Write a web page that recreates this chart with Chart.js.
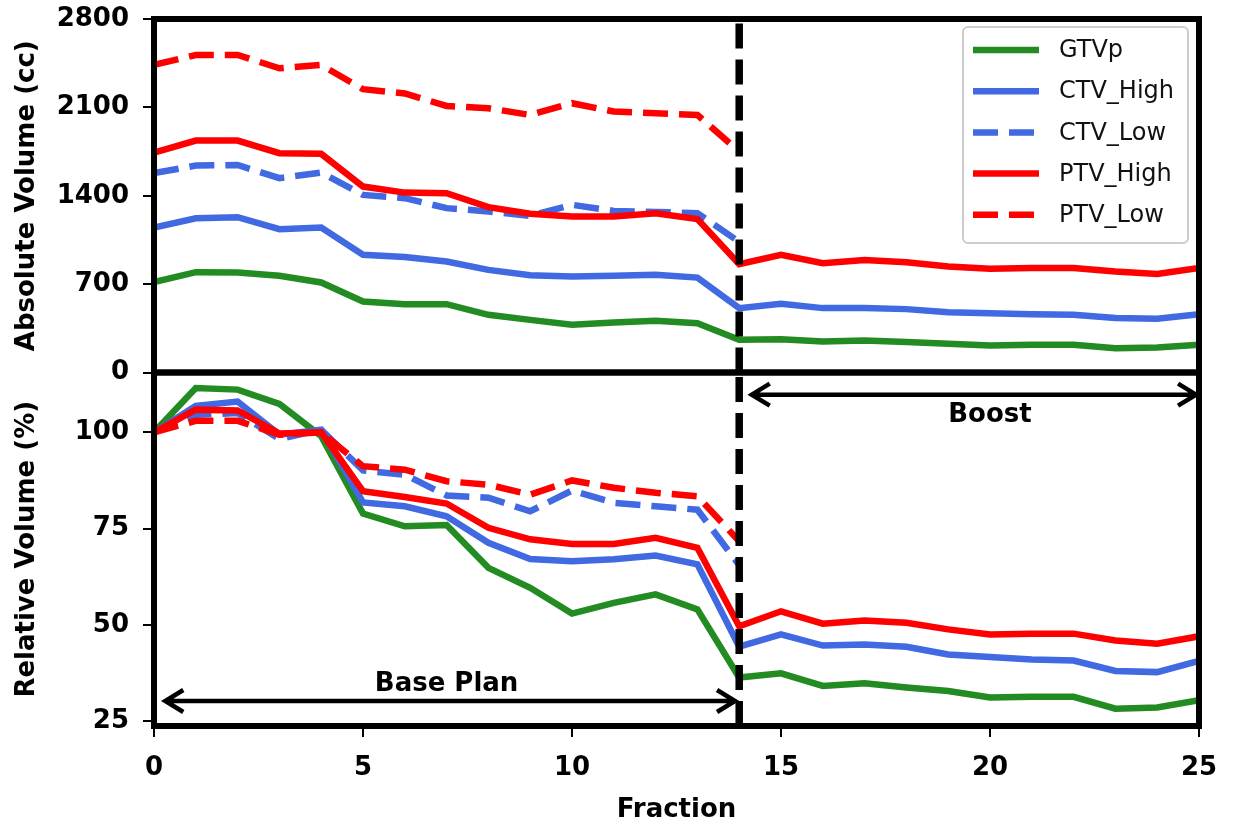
<!DOCTYPE html>
<html>
<head>
<meta charset="utf-8">
<script src="https://cdn.jsdelivr.net/npm/chart.js@4.4.1/dist/chart.umd.min.js"></script>
<style>
  html, body { margin: 0; padding: 0; background: #fff; }
  #wrap { width: 1234px; height: 826px; position: relative; }
</style>
</head>
<body>
<div id="wrap"><canvas id="volChart"></canvas></div>
<script>
// fractions 0..25, the low-dose volumes only exist for the base plan (0..14)
var fractions = [0, 1, 2, 3, 4, 5, 6, 7, 8, 9, 10, 11, 12, 13, 14, 15, 16, 17, 18, 19, 20, 21, 22, 23, 24, 25];
var baseFractions = [0, 1, 2, 3, 4, 5, 6, 7, 8, 9, 10, 11, 12, 13, 14];

// absolute volumes (cc)
var gtvAbs = [716, 795, 792, 766, 713, 562, 541, 541, 457, 417, 378, 396, 409, 391, 259, 264, 245, 253, 241, 227, 214, 219, 219, 193, 198, 219];
var ctvHighAbs = [1148, 1222, 1230, 1135, 1148, 932, 914, 879, 813, 771, 760, 766, 774, 752, 510, 544, 510, 510, 502, 478, 470, 462, 457, 431, 425, 462];
var ctvLowAbs = [1579, 1639, 1644, 1539, 1584, 1407, 1381, 1302, 1275, 1241, 1328, 1280, 1272, 1262, 1035];
var ptvHighAbs = [1742, 1837, 1837, 1737, 1732, 1473, 1425, 1420, 1310, 1257, 1235, 1235, 1262, 1215, 858, 932, 866, 892, 874, 839, 821, 827, 827, 800, 781, 827];
var ptvLowAbs = [2436, 2515, 2515, 2410, 2436, 2244, 2210, 2111, 2093, 2040, 2133, 2067, 2054, 2040, 1750];

// relative volumes (%)
var gtvRel = [100, 111.5, 111.1, 107.4, 99, 78.9, 75.6, 75.9, 64.8, 59.6, 52.9, 55.7, 57.9, 54, 36.3, 37.4, 34.1, 34.8, 33.7, 32.8, 31.1, 31.3, 31.3, 28.2, 28.5, 30.4];
var ctvHighRel = [100, 106.9, 108, 99.4, 100.7, 81.8, 80.8, 78.2, 71.3, 67.1, 66.5, 67, 68, 65.7, 44.3, 47.5, 44.6, 44.9, 44.3, 42.3, 41.6, 41, 40.7, 38, 37.7, 40.6];
var ctvLowRel = [100, 104.6, 105, 98.3, 100.7, 90.1, 89, 83.6, 83, 79.5, 84.9, 81.7, 80.8, 79.9, 65.5];
var ptvHighRel = [100, 105.9, 105.7, 99.7, 100, 84.7, 83.2, 81.5, 75.2, 72.2, 71, 71, 72.6, 70, 49.6, 53.5, 50.3, 51.1, 50.5, 48.8, 47.5, 47.7, 47.7, 45.9, 45.1, 47];
var ptvLowRel = [100, 103, 103, 99.4, 100, 91.2, 90.3, 87.3, 86.4, 83.8, 87.5, 85.6, 84.3, 83.4, 71.7];

// tick labels
var xTicks = [0, 5, 10, 15, 20, 25];
var absTicks = [0, 700, 1400, 2100, 2800];
var relTicks = [25, 50, 75, 100];

var boostStart = 14;

var GREEN = '#228b22', BLUE = '#4169e1', RED = '#ff0000';
var DASH = [25, 11];
var FONT = 'DejaVu Sans';

function pts(xs, ys) {
  return ys.map(function (v, i) { return { x: xs[i], y: v }; });
}

function series(label, xs, ys, color, dashed, axis, order) {
  return {
    label: label,
    data: pts(xs, ys),
    yAxisID: axis,
    borderColor: color,
    backgroundColor: color,
    borderWidth: 6.5,
    borderDash: dashed ? DASH : [],
    pointRadius: 0,
    tension: 0,
    order: order
  };
}

var datasets = [
  series('GTVp', fractions, gtvAbs, GREEN, false, 'yAbs', 5),
  series('CTV_High', fractions, ctvHighAbs, BLUE, false, 'yAbs', 4),
  series('CTV_Low', baseFractions, ctvLowAbs, BLUE, true, 'yAbs', 3),
  series('PTV_High', fractions, ptvHighAbs, RED, false, 'yAbs', 2),
  series('PTV_Low', baseFractions, ptvLowAbs, RED, true, 'yAbs', 1),
  series('GTVp', fractions, gtvRel, GREEN, false, 'yRel', 5),
  series('CTV_High', fractions, ctvHighRel, BLUE, false, 'yRel', 4),
  series('CTV_Low', baseFractions, ctvLowRel, BLUE, true, 'yRel', 3),
  series('PTV_High', fractions, ptvHighRel, RED, false, 'yRel', 2),
  series('PTV_Low', baseFractions, ptvLowRel, RED, true, 'yRel', 1)
];

function drawArrow(ctx, x1, x2, y) {
  var hl = 18, hw = 11;
  ctx.beginPath();
  ctx.moveTo(x1, y); ctx.lineTo(x2, y);
  ctx.moveTo(x1 + hl, y - hw); ctx.lineTo(x1, y); ctx.lineTo(x1 + hl, y + hw);
  ctx.moveTo(x2 - hl, y - hw); ctx.lineTo(x2, y); ctx.lineTo(x2 - hl, y + hw);
  ctx.stroke();
}

// dashed boost marker, annotations, panel frames and the legend box
var overlayPlugin = {
  id: 'overlay',
  afterDatasetsDraw: function (chart) {
    var ctx = chart.ctx;
    var xs = chart.scales.x, yAbs = chart.scales.yAbs, yRel = chart.scales.yRel;
    var area = chart.chartArea;
    var bx = xs.getPixelForValue(boostStart);
    ctx.save();

    ctx.strokeStyle = '#000';
    ctx.lineWidth = 7.5;
    ctx.setLineDash(DASH);
    [yAbs, yRel].forEach(function (s) {
      ctx.beginPath();
      ctx.moveTo(bx, s.bottom);
      ctx.lineTo(bx, s.top);
      ctx.stroke();
    });
    ctx.setLineDash([]);

    // Base Plan / Boost arrows
    ctx.lineWidth = 4.5;
    ctx.lineJoin = 'miter';
    drawArrow(ctx, xs.getPixelForValue(0.27), xs.getPixelForValue(13.9), yRel.getPixelForValue(30.2));
    drawArrow(ctx, xs.getPixelForValue(14.3), xs.getPixelForValue(24.93), yRel.getPixelForValue(109.8));
    ctx.fillStyle = '#000';
    ctx.font = 'bold 26px "' + FONT + '"';
    ctx.textAlign = 'center';
    ctx.textBaseline = 'alphabetic';
    ctx.fillText('Base Plan', xs.getPixelForValue(7), yRel.getPixelForValue(32.7));
    ctx.fillText('Boost', xs.getPixelForValue(20), yRel.getPixelForValue(102.7));

    // frames
    ctx.lineWidth = 6;
    [yAbs, yRel].forEach(function (s) {
      ctx.strokeRect(area.left, s.top, area.right - area.left, s.bottom - s.top);
    });

    // legend
    var lx = area.right - 236, ly = area.top + 8, lw = 225, lh = 216;
    ctx.fillStyle = 'rgba(255,255,255,0.85)';
    ctx.strokeStyle = '#cccccc';
    ctx.lineWidth = 2;
    ctx.beginPath();
    ctx.roundRect(lx, ly, lw, lh, 5);
    ctx.fill();
    ctx.stroke();
    var items = chart.data.datasets.filter(function (d) { return d.yAxisID === 'yAbs'; });
    ctx.font = '24px "' + FONT + '"';
    ctx.textAlign = 'left';
    ctx.textBaseline = 'middle';
    items.forEach(function (d, i) {
      var ry = ly + 23 + i * 41.2;
      ctx.strokeStyle = d.borderColor;
      ctx.lineWidth = 6.5;
      ctx.setLineDash(d.borderDash);
      ctx.beginPath();
      ctx.moveTo(lx + 10, ry);
      ctx.lineTo(lx + 76, ry);
      ctx.stroke();
      ctx.setLineDash([]);
      ctx.fillStyle = '#111';
      ctx.fillText(d.label, lx + 96, ry + 1);
    });
    ctx.restore();
  }
};

function fixedTicks(list) {
  return function (scale) {
    scale.ticks = list.map(function (v) { return { value: v }; });
  };
}

function fitY(s) {
  s.width = 154;
  s.paddingTop = 0;
  s.paddingBottom = 0;
}

var tickFont = { family: FONT, size: 26, weight: 'bold' };
var tickGrid = { drawOnChartArea: false, drawTicks: true, tickLength: 11, color: '#000', lineWidth: 2 };

var ctx = document.getElementById('volChart').getContext('2d');
var volChart = new Chart(ctx, {
  type: 'line',
  data: { datasets: datasets },
  options: {
    responsive: true,
    maintainAspectRatio: false,
    animation: false,
    layout: { padding: { top: 19, right: 35, left: 0, bottom: 0 } },
    plugins: {
      legend: { display: false },
      tooltip: { enabled: false }
    },
    scales: {
      x: {
        type: 'linear',
        min: 0,
        max: 25,
        afterBuildTicks: fixedTicks(xTicks),
        afterFit: function (s) { s.height = 100; s.paddingLeft = 0; s.paddingRight = 0; },
        grid: tickGrid,
        border: { display: false },
        ticks: { color: '#000', font: tickFont, padding: 16, callback: function (v) { return String(v); } },
        title: { display: true, text: 'Fraction', color: '#000', font: tickFont, padding: { top: 0, bottom: 0 } }
      },
      yAbs: {
        type: 'linear',
        position: 'left',
        stack: 'panels',
        stackWeight: 1,
        weight: 2,
        min: 0,
        max: 2800,
        afterBuildTicks: fixedTicks(absTicks),
        afterFit: fitY,
        grid: tickGrid,
        border: { display: false },
        ticks: { color: '#000', font: tickFont, padding: 14, callback: function (v) { return String(v); } },
        title: { display: true, text: 'Absolute Volume (cc)', color: '#000', font: tickFont, padding: { top: 12, bottom: 0 } }
      },
      yRel: {
        type: 'linear',
        position: 'left',
        stack: 'panels',
        stackWeight: 1,
        weight: 1,
        min: 23.7,
        max: 115.55,
        afterBuildTicks: fixedTicks(relTicks),
        afterFit: fitY,
        grid: tickGrid,
        border: { display: false },
        ticks: { color: '#000', font: tickFont, padding: 14, callback: function (v) { return String(v); } },
        title: { display: true, text: 'Relative Volume (%)', color: '#000', font: tickFont, padding: { top: 12, bottom: 0 } }
      }
    }
  },
  plugins: [overlayPlugin]
});
</script>
</body>
</html>
